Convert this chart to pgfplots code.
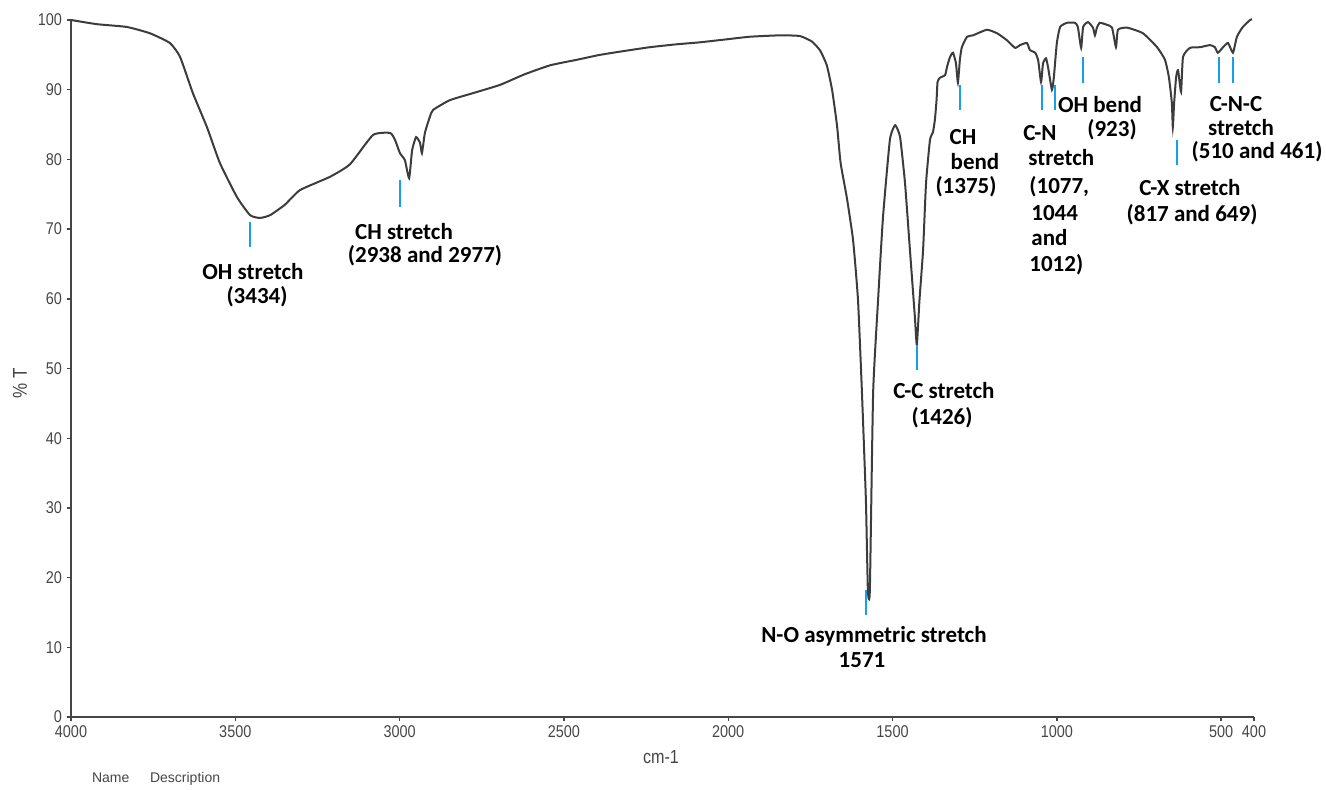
\documentclass[border=0pt]{standalone}
\usepackage{pgfplots}
\pgfplotsset{compat=1.18}
\usepackage{fontspec}
\setmainfont{Carlito}
\newfontfamily\tickfont[FakeStretch=0.85]{Liberation Sans}
\newfontfamily\plainsans{Liberation Sans}
\definecolor{curvegray}{RGB}{60,60,60}
\definecolor{axisgray}{RGB}{70,70,70}
\definecolor{annblue}{RGB}{20,160,235}
\begin{document}
\begin{tikzpicture}
\begin{axis}[
  at={(35.5pt,36pt)}, anchor=south west,
  scale only axis, width=591.5pt, height=348.5pt,
  x dir=reverse, xmin=400, xmax=4000, ymin=0, ymax=100,
  axis x line*=bottom, axis y line*=left,
  axis line style={-, line width=1pt, axisgray},
  xtick={4000,3500,3000,2500,2000,1500,1000,500,400},
  ytick={0,10,...,100},
  tick align=outside, major tick length=2pt,
  tick style={line width=0.7pt, axisgray},
  ticklabel style={font=\tickfont\fontsize{8.5}{10}\selectfont, text=axisgray},
  xticklabel style={yshift=1pt},
  yticklabel style={xshift=1pt},
  /pgf/number format/assume math mode=true,
  /pgf/number format/1000 sep={},
  clip=false,
]
\addplot[curvegray, line width=1pt, smooth, tension=0.3] coordinates {
(4000,100.0) (3921,99.4) (3830,99.0) (3760,98.1) (3699,96.7) (3668,94.7)
(3629,89.5) (3586,84.6) (3547,79.5) (3495,74.6) (3455,72.0) (3425,71.6)
(3394,72.0) (3349,73.5) (3303,75.6) (3212,77.5) (3151,79.3) (3081,83.5)
(3029,83.8) (3014,82.8) (2999,80.9) (2984,79.9) (2971,77.3) (2962,81.3)
(2950,83.2) (2938,82.4) (2932,80.9) (2923,83.8) (2908,86.1) (2898,87.1)
(2847,88.5) (2770,89.6) (2694,90.7) (2620,92.2) (2542,93.5) (2460,94.3) (2390,95.0)
(2310,95.6) (2238,96.1) (2160,96.5) (2086,96.8) (2010,97.2) (1934,97.6)
(1842,97.8) (1782,97.7) (1745,96.9) (1720,95.6) (1700,93.5) (1684,90.0) (1669,84.9)
(1658,79.5) (1639,74.5) (1620,68.4) (1605,59.8) (1593,46.5) (1581,31.1)
(1575,18.2) (1569,18.2) (1559,46.5) (1544,59.8) (1529,71.7) (1508,82.8)
(1492,84.9) (1477,83.2) (1462,76.6) (1447,67.0) (1432,57.4) (1426,53.4)
(1418,59.8) (1407,67.0) (1398,76.6) (1386,82.8) (1377,83.9) (1371,85.7)
(1366,88.5) (1363,91.1) (1356,91.7) (1340,92.1) (1334,93.3) (1325,94.7)
(1316,95.3) (1307,93.8) (1301,91.0) (1295,94.3) (1289,96.1) (1273,97.6)
(1255,97.8) (1213,98.6) (1182,98.1) (1152,97.1) (1127,96.0) (1112,96.4)
(1091,96.7) (1082,95.7) (1066,95.3) (1057,94.3) (1048,91.1) (1042,93.8)
(1033,94.5) (1027,93.3) (1015,90.0) (1009,91.8) (1000,96.7) (990,99.0)
(969,99.6) (945,99.6) (936,99.0) (926,96.0) (920,99.0) (905,99.7)
(890,98.9) (884,97.8) (878,98.9) (869,99.6) (847,99.3) (832,98.9)
(820,96.1) (814,98.6) (786,98.9) (738,98.1) (695,96.1) (671,94.3)
(659,91.8) (650,88.1) (647,84.6) (643,88.1) (637,91.8) (631,92.8)
(622,89.7) (616,94.7) (595,96.0) (564,96.1) (534,96.4) (519,96.1)
(510,95.3) (494,96.1) (479,96.7) (464,95.3) (452,97.6) (434,99.0)
(412,100.0) (406,100.1)
};
\draw[annblue, line width=1pt] (axis cs:3455,71.0) -- (axis cs:3455,67.4);
\draw[annblue, line width=1pt] (axis cs:2999,77.0) -- (axis cs:2999,73.2);
\draw[annblue, line width=1pt] (axis cs:1581,18.2) -- (axis cs:1581,14.6);
\draw[annblue, line width=1pt] (axis cs:1426,53.4) -- (axis cs:1426,49.8);
\draw[annblue, line width=1pt] (axis cs:1295,90.7) -- (axis cs:1295,87.1);
\draw[annblue, line width=1pt] (axis cs:1045,90.7) -- (axis cs:1045,87.1);
\draw[annblue, line width=1pt] (axis cs:1006,90.7) -- (axis cs:1006,87.1);
\draw[annblue, line width=1pt] (axis cs:920,94.7) -- (axis cs:920,91.0);
\draw[annblue, line width=1pt] (axis cs:634,82.8) -- (axis cs:634,79.2);
\draw[annblue, line width=1pt] (axis cs:507,94.7) -- (axis cs:507,91.0);
\draw[annblue, line width=1pt] (axis cs:464,94.7) -- (axis cs:464,91.0);
\end{axis}
\begin{scope}[x=0.5pt, y=-0.5pt, shift={(0,394.5pt)}]
\path[use as bounding box] (0,0) rectangle (1326,789);
\node[font=\tickfont\fontsize{9.5}{11}\selectfont, text=axisgray] at (661,757) {cm-1};
\node[font=\tickfont\fontsize{10}{11}\selectfont, text=axisgray, rotate=90] at (20,383) {\% T};
\node[font=\plainsans\fontsize{7}{8}\selectfont, text=axisgray, anchor=base west] at (85,782) {Name};
\node[font=\plainsans\fontsize{7}{8}\selectfont, text=axisgray, anchor=base west] at (143,782) {Description};
\tikzset{ann/.style={font=\bfseries\fontsize{11.5}{12}\selectfont, inner sep=0pt}}
\node[ann] at (253,272) {OH stretch};
\node[ann] at (257,297) {(3434)};
\node[ann] at (404,232) {CH stretch};
\node[ann] at (425,256) {(2938 and 2977)};
\node[ann] at (874,636) {N-O asymmetric stretch};
\node[ann] at (862,660) {1571};
\node[ann] at (944,391) {C-C stretch};
\node[ann] at (942,418) {(1426)};
\node[ann] at (963,137) {CH};
\node[ann] at (975,162) {bend};
\node[ann] at (966,187) {(1375)};
\node[ann, anchor=west] at (1023,133) {C-N};
\node[ann, anchor=west] at (1028,158) {stretch};
\node[ann, anchor=west] at (1029,187) {(1077,};
\node[ann, anchor=west] at (1031,213) {1044};
\node[ann, anchor=west] at (1031,238) {and};
\node[ann, anchor=west] at (1029,265) {1012)};
\node[ann] at (1100,105) {OH bend};
\node[ann] at (1112,130) {(923)};
\node[ann] at (1190,188) {C-X stretch};
\node[ann] at (1192,215) {(817 and 649)};
\node[ann] at (1236,104) {C-N-C};
\node[ann] at (1241,128) {stretch};
\node[ann] at (1257,152) {(510 and 461)};
\end{scope}
\end{tikzpicture}
\end{document}
